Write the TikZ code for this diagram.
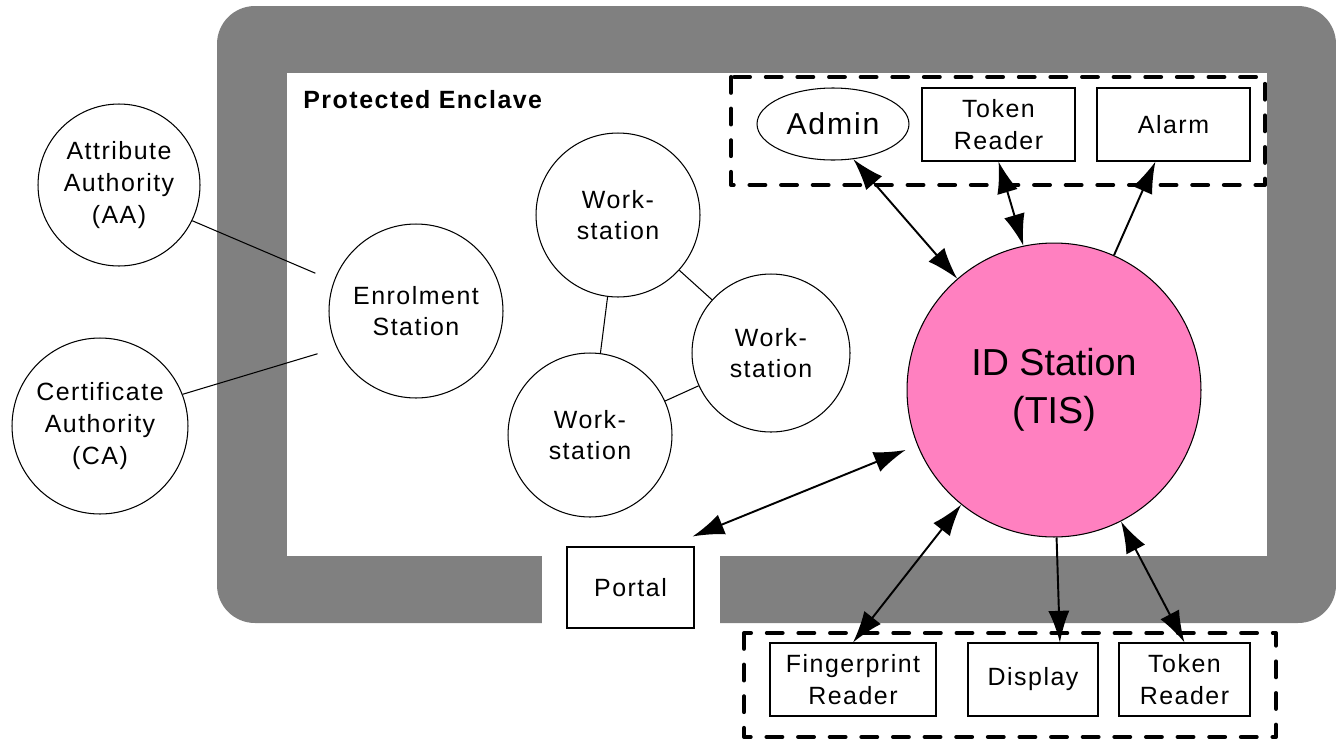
\documentclass[tikz,border=0pt]{standalone}
\usepackage{fontspec}
\setmainfont{Liberation Sans}
\newfontfamily\spacedfont[LetterSpace=6]{Liberation Sans}
\usetikzlibrary{arrows.meta,calc,shapes.geometric}
\definecolor{enclavegray}{RGB}{128,128,128}
\definecolor{tispink}{RGB}{255,128,192}

\begin{document}
\begin{tikzpicture}[x=0.02cm,y=-0.02cm,>={Latex[length=18pt,width=12pt]},line width=0.6pt]
	\tikzset{station/.style = {shape=circle,draw,fill=white,align=center,inner sep=0pt,font=\spacedfont\fontsize{14.2}{18}\selectfont}}
	\tikzset{device/.style = {shape=rectangle,draw,fill=white,align=center,inner sep=0pt,minimum height=1.46cm,font=\spacedfont\fontsize{14.2}{18}\selectfont}}
	\tikzset{group/.style = {line width=2.3pt,dash pattern=on 9pt off 9pt,line cap=round,line join=round}}
	\tikzset{link/.style = {line width=1.1pt}}
	\useasboundingbox (0,0) rectangle (1336,741);
	% enclave wall
	\fill[enclavegray,rounded corners=0.76cm] (217,6) rectangle (1336,623);
	\fill[white] (287,73) rectangle (1267,556);
	\fill[white] (542,550) rectangle (720,630);
	\node[anchor=base west,font=\spacedfont\bfseries\fontsize{14.2}{18}\selectfont] (title) at (297,108) {Protected Enclave};
	% device groups
	\draw[group] (731,77) rectangle (1265,185);
	\draw[group] (744,633) rectangle (1276,737);
	% vertices
	\node[station,minimum size=3.24cm] (aa) at (119,185) {Attribute\\Authority\\(AA)};
	\node[station,minimum size=3.52cm] (ca) at (100,426) {Certificate\\Authority\\(CA)};
	\node[station,minimum size=3.48cm] (enrol) at (416,311) {Enrolment\\Station};
	\node[station,minimum size=3.28cm] (ws1) at (618,215) {Work-\\station};
	\node[station,minimum size=3.16cm] (ws2) at (771,353) {Work-\\station};
	\node[station,minimum size=3.28cm] (ws3) at (590,435) {Work-\\station};
	\node[station,fill=tispink,minimum size=5.88cm,font=\fontsize{21.4}{27.2}\selectfont] (tis) at (1054,390) {ID Station\\(TIS)};
	\node[shape=ellipse,draw,inner sep=0pt,minimum width=3.04cm,minimum height=1.44cm,font=\spacedfont\fontsize{17.2}{20}\selectfont] (admin) at (833,124) {Admin};
	\node[device,minimum width=3.06cm] (tokA) at (998.5,124.5) {Token\\Reader};
	\node[device,minimum width=3.06cm] (alarm) at (1173.5,124.5) {Alarm};
	\node[device,minimum width=2.54cm,minimum height=1.62cm] (portal) at (630.5,587.5) {Portal};
	\node[device,minimum width=3.32cm] (fp) at (853,679.5) {Fingerprint\\Reader};
	\node[device,minimum width=2.6cm] (disp) at (1033,679.5) {Display};
	\node[device,minimum width=2.62cm] (tokB) at (1184.5,679.5) {Token\\Reader};
	%edges
	\path (aa.-26) edge[shorten >=0.4cm] (enrol.160);
	\path (ca.21) edge[shorten >=0.4cm] (enrol.205);
	\path (ws1) edge (ws2);
	\path (ws1) edge (ws3);
	\path (ws3) edge (ws2);

	\path (admin.-60) edge[<->,link] (tis.131);
	\path (tokA.south) edge[<->,link] (tis.102);
	\path (tis.66) edge[->,link] (alarm.244);
	\path ($(portal.north east)+(-2,-10)$) edge[<->,link,shorten >=0.25cm] (tis.202);
	\path (tis.231) edge[<->,link] (fp.north);
	\path (tis.271) edge[->,link] (disp.54);
	\path (tis.297) edge[<->,link] (tokB.north);
\end{tikzpicture}
\end{document}
